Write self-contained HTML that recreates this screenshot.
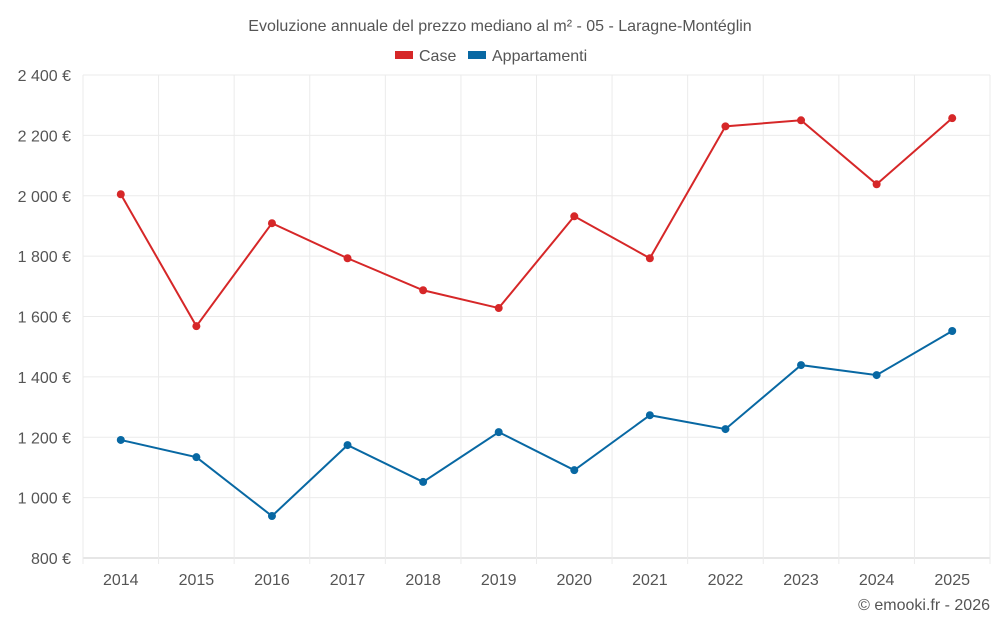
<!DOCTYPE html>
<html><head><meta charset="utf-8"><style>
body{margin:0;background:#fff;font-family:"Liberation Sans",sans-serif;}
svg text{font-family:"Liberation Sans",sans-serif;}
</style></head><body>
<svg id="chart" width="1000" height="625">
<text x="500" y="31" text-anchor="middle" font-size="16" fill="#555">Evoluzione annuale del prezzo mediano al m² - 05 - Laragne-Montéglin</text>
<g>
<g><rect x="395" y="51" width="18" height="8" fill="#d62728"/><text x="419" y="61" font-size="16" fill="#555">Case</text></g>
<g><rect x="468" y="51" width="18" height="8" fill="#0868a3"/><text x="492" y="61" font-size="16" fill="#555">Appartamenti</text></g>
</g>
<g id="grid"></g><g id="axes"></g><g id="series"></g>
<text x="990" y="610" text-anchor="end" font-size="16" fill="#555">© emooki.fr - 2026</text>
</svg>
<script>
const years=["2014","2015","2016","2017","2018","2019","2020","2021","2022","2023","2024","2025"];
const caseVals=[2005,1568,1909,1793,1687,1628,1932,1793,2230,2250,2038,2257];
const apptVals=[1191,1134,939,1174,1052,1217,1091,1273,1227,1439,1406,1552];
const yTicks=[800,1000,1200,1400,1600,1800,2000,2200,2400];
const NS="http://www.w3.org/2000/svg";
const L=83,R=990,T=75,B=558,ymin=800,ymax=2400;
const bw=(R-L)/years.length;
const xs=i=>L+bw*(i+0.5);
const ys=v=>B-(v-ymin)/(ymax-ymin)*(B-T);
function mk(t,a,p){const e=document.createElementNS(NS,t);for(const k in a)e.setAttribute(k,a[k]);p.appendChild(e);return e;}
const g=document.getElementById('grid'),ax=document.getElementById('axes'),s=document.getElementById('series');
const fmt=v=>{const str=String(v);return (str.length>3?str.slice(0,-3)+" "+str.slice(-3):str)+" €";};
yTicks.forEach(v=>{
 const l=mk('line',{x1:L,x2:R,y1:ys(v),y2:ys(v),stroke:v===ymin?'#ccc':'#ebebeb'},g);
 
 
 const t=mk('text',{x:71,y:ys(v)+6,'text-anchor':'end','font-size':16,fill:'#555'},ax);
 t.textContent=fmt(v);
 
 
});
for(let i=0;i<=years.length;i++){
 const l=mk('line',{x1:L+bw*i,x2:L+bw*i,y1:T,y2:B+6,stroke:'#ebebeb'},g);
 
 
}
years.forEach((y,i)=>{
 const t=mk('text',{x:xs(i),y:585,'text-anchor':'middle','font-size':16,fill:'#555'},ax);
 t.textContent=y;
 
 
});
function series(vals,color,name){
 const p=mk('polyline',{points:vals.map((v,i)=>xs(i)+','+ys(v)).join(' '),fill:'none',stroke:color,'stroke-width':2},s);
 
 
 vals.forEach((v,i)=>{
  const c=mk('circle',{cx:xs(i),cy:ys(v),r:4,fill:color},s);
  
  
 });
}
series(caseVals,'#d62728','case');
series(apptVals,'#0868a3','appartamenti');
</script>
</body></html>
